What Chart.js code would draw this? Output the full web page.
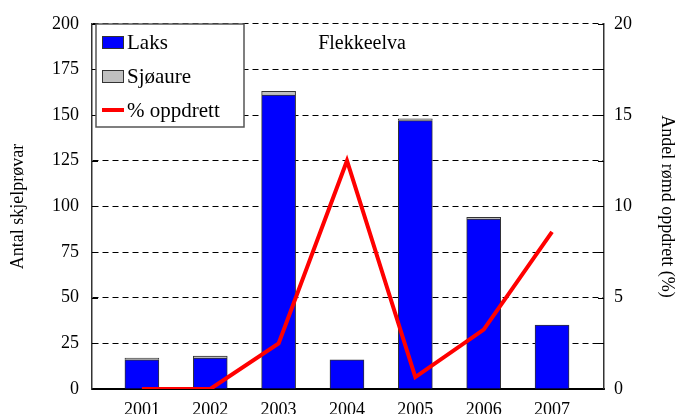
<!DOCTYPE html>
<html>
<head>
<meta charset="utf-8">
<title>Flekkeelva</title>
<script src="https://cdn.jsdelivr.net/npm/chart.js@4/dist/chart.umd.min.js"></script>
<style>
  html, body { margin: 0; padding: 0; background: #ffffff; overflow: hidden; }
  canvas { display: block; }
</style>
</head>
<body>
<canvas id="chart" width="678" height="414"></canvas>
<script>
// Data
const years = [2001, 2002, 2003, 2004, 2005, 2006, 2007];
const laks = [16, 17, 161, 16, 147, 93, 35];
const sjoaure = [1, 1, 2, 0, 1, 1, 0];
const oppdrett = [0, 0, 2.5, 12.5, 0.65, 3.25, 8.6];
const leftTicks = [0, 25, 50, 75, 100, 125, 150, 175, 200];
const rightTicks = [0, 5, 10, 15, 20];

const serif = "'Liberation Serif', 'Times New Roman', serif";

document.addEventListener('DOMContentLoaded', function() {
  const ctx = document.getElementById('chart').getContext('2d');

  // Small inward tick marks on both vertical axes
  const innerTicks = {
    id: 'innerTicks',
    afterDatasetsDraw(chart) {
      const c = chart.ctx;
      const area = chart.chartArea;
      const y = chart.scales.y;
      c.save();
      c.strokeStyle = '#000';
      c.lineWidth = 1;
      leftTicks.forEach(v => {
        const py = Math.round(y.getPixelForValue(v)) + 0.5;
        c.beginPath();
        c.moveTo(area.left, py);
        c.lineTo(area.left + 6, py);
        c.moveTo(area.right - 6, py);
        c.lineTo(area.right, py);
        c.stroke();
      });
      c.restore();
    }
  };

  // Title and boxed legend drawn inside the plot area
  const insideLegend = {
    id: 'insideLegend',
    afterDraw(chart) {
      const c = chart.ctx;
      c.save();
      c.font = '20px ' + serif;
      c.fillStyle = '#000';
      c.textAlign = 'center';
      c.textBaseline = 'middle';
      c.fillText('Flekkeelva', 362, 44);

      // legend box
      c.fillStyle = '#fff';
      c.fillRect(96, 24, 148, 103);
      c.strokeStyle = '#555';
      c.lineWidth = 1.5;
      c.strokeRect(96, 24, 148, 103);

      c.textAlign = 'left';
      c.font = '21px ' + serif;
      chart.data.datasets.forEach((ds, i) => {
        const cy = 42 + i * 34;
        if (ds.type === 'line') {
          c.strokeStyle = ds.borderColor;
          c.lineWidth = 4;
          c.beginPath();
          c.moveTo(102, cy);
          c.lineTo(124, cy);
          c.stroke();
        } else {
          c.fillStyle = ds.backgroundColor;
          c.fillRect(102, cy - 6, 22, 13);
          c.strokeStyle = '#333';
          c.lineWidth = 1;
          c.strokeRect(102.5, cy - 5.5, 21, 12);
        }
        c.fillStyle = '#000';
        c.fillText(ds.label, 127, cy + 1);
      });
      c.restore();
    }
  };

  new Chart(ctx, {
    type: 'bar',
    data: {
      datasets: [
        {
          label: 'Laks',
          data: years.map((yr, i) => ({ x: yr, y: laks[i] })),
          backgroundColor: '#0000ff',
          borderColor: '#333333',
          borderWidth: 1,
          barThickness: 34,
          yAxisID: 'y',
          order: 2
        },
        {
          label: 'Sjøaure',
          data: years.map((yr, i) => ({ x: yr, y: sjoaure[i] })),
          backgroundColor: '#c0c0c0',
          borderColor: '#333333',
          borderWidth: 1,
          barThickness: 34,
          yAxisID: 'y',
          order: 2
        },
        {
          type: 'line',
          label: '% oppdrett',
          data: years.map((yr, i) => ({ x: yr, y: oppdrett[i] })),
          borderColor: '#ff0000',
          borderWidth: 4,
          pointRadius: 0,
          tension: 0,
          fill: false,
          yAxisID: 'y1',
          order: 0
        }
      ]
    },
    options: {
      responsive: false,
      animation: false,
      layout: { padding: { top: 21, left: 0, right: 0, bottom: 0 } },
      plugins: {
        legend: { display: false },
        tooltip: { enabled: false }
      },
      scales: {
        x: {
          type: 'linear',
          stacked: true,
          offset: false,
          min: 2000.27,
          max: 2007.76,
          afterBuildTicks: scale => { scale.ticks = years.map(v => ({ value: v })); },
          afterFit: scale => { scale.height = 25; },
          grid: { display: false, drawTicks: false },
          border: { display: true, color: '#000', width: 2 },
          ticks: {
            autoSkip: false,
            maxRotation: 0,
            padding: 10,
            color: '#000',
            font: { family: serif, size: 18 },
            callback: v => String(v)
          }
        },
        y: {
          position: 'left',
          stacked: true,
          min: 0,
          max: 200,
          afterBuildTicks: scale => { scale.ticks = leftTicks.map(v => ({ value: v })); },
          afterFit: scale => { scale.width = 92; },
          grid: { color: '#000', lineWidth: 1, drawTicks: false },
          border: { display: true, color: '#333', width: 1.5, dash: [6, 4] },
          ticks: {
            padding: 13,
            color: '#000',
            font: { family: serif, size: 18 }
          },
          title: {
            display: true,
            text: 'Antal skjelprøvar',
            color: '#000',
            font: { family: serif, size: 18 },
            padding: { top: 7, bottom: 0 }
          }
        },
        y1: {
          position: 'right',
          min: 0,
          max: 20,
          afterBuildTicks: scale => { scale.ticks = rightTicks.map(v => ({ value: v })); },
          afterFit: scale => { scale.width = 74; },
          grid: { display: false, drawTicks: false },
          border: { display: true, color: '#333', width: 1.5 },
          ticks: {
            padding: 10,
            color: '#000',
            font: { family: serif, size: 18 }
          },
          title: {
            display: true,
            text: 'Andel rømd oppdrett (%)',
            color: '#000',
            font: { family: serif, size: 18 },
            padding: { top: 0, bottom: 0 }
          }
        }
      }
    },
    plugins: [innerTicks, insideLegend]
  });
});
</script>
</body>
</html>
